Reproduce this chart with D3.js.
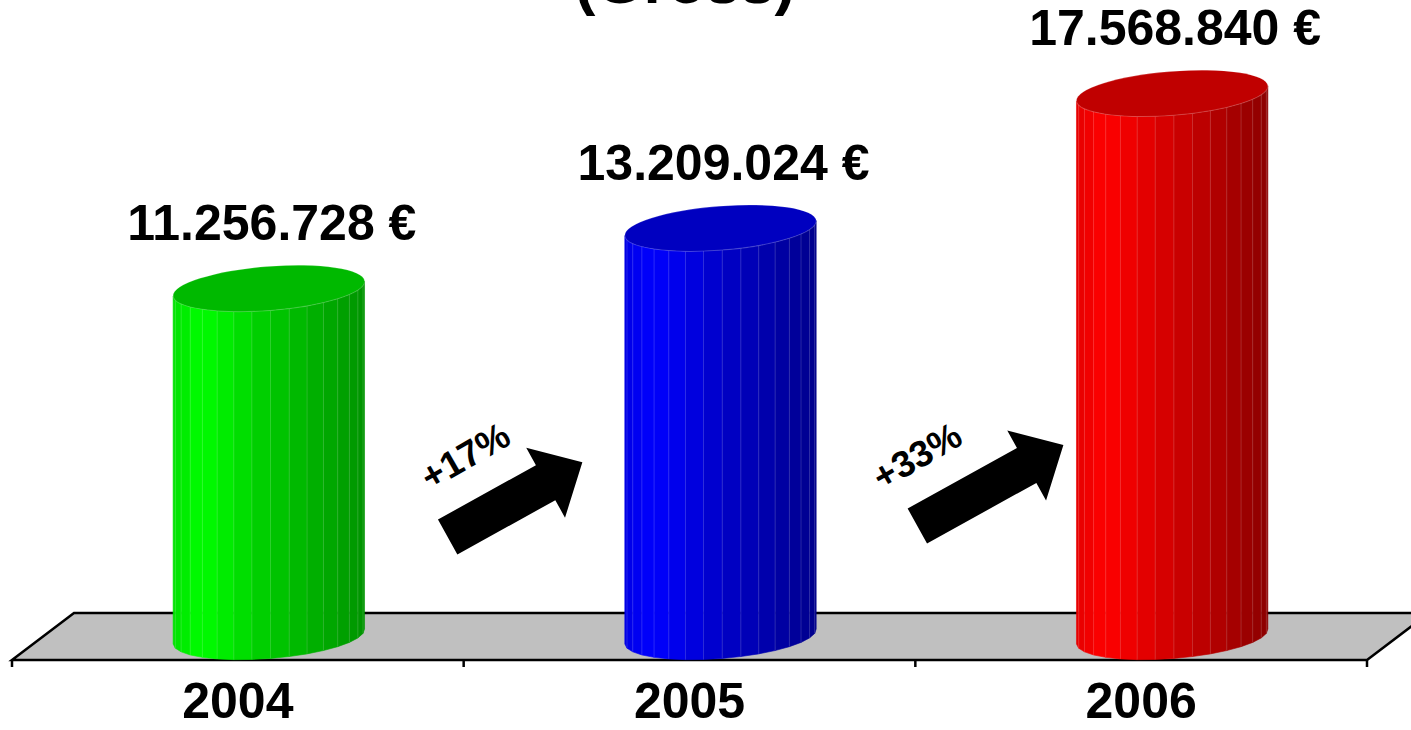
<!DOCTYPE html>
<html>
<head>
<meta charset="utf-8">
<script src="https://cdn.jsdelivr.net/npm/d3@7"></script>
<style>
  body { margin: 0; background: #fff; }
  svg { display: block; font-family: "Liberation Sans", Arial, sans-serif; }
</style>
</head>
<body>
<svg id="chart" width="1411" height="730"></svg>
<script>
// Revenue per year, 3D cylinder columns on a grey floor

const years = ['2004', '2005', '2006'];
const revenue = [11256728, 13209024, 17568840];
const growthLabels = ['+17%', '+33%'];
const title = '(Gross)';

// palette per column: [left edge, brightest, middle, right edge, top]
const palettes = [
  ['#00e000', '#00ff00', '#00c800', '#009400', '#00b900'],
  ['#0000e6', '#0000ff', '#0000c8', '#00008c', '#0000c0'],
  ['#e60000', '#ff0000', '#d00000', '#8c0000', '#c00000']
];

const W = 1411, H = 730;
const svg = d3.select('#chart');

const fmt = d3.formatLocale({ decimal: ',', thousands: '.', grouping: [3], currency: ['', ' €'] }).format('$,.0f');

// floor geometry
const floorFrontY = 660, depthDx = 62, depthDy = 47;
const baseY = floorFrontY - depthDy / 2;

const x = d3.scaleBand().domain(years).range([12, 1367]).padding(0);
const y = d3.scaleLinear().domain([0, 18e6]).range([baseY, baseY - 18 * 30.915]);

// Floor
const [fx0, fx1] = x.range();
svg.append('polygon')
  .attr('points', [[fx0, floorFrontY], [fx0 + depthDx, floorFrontY - depthDy],
    [fx1 + depthDx, floorFrontY - depthDy], [fx1, floorFrontY]].map(p => p.join(',')).join(' '))
  .attr('fill', '#c0c0c0')
  .attr('stroke', '#000')
  .attr('stroke-width', 2.5)
  .attr('stroke-linejoin', 'miter');

// ticks at band boundaries
const bounds = years.map(d => x(d)).concat([fx1]);
svg.append('g').selectAll('line')
  .data(bounds)
  .enter().append('line')
  .attr('x1', d => d).attr('x2', d => d)
  .attr('y1', floorFrontY).attr('y2', floorFrontY + 7)
  .attr('stroke', '#000').attr('stroke-width', 2.5);

// category labels
svg.append('g').selectAll('text')
  .data(years)
  .enter().append('text')
  .attr('x', d => x(d) + x.bandwidth() / 2)
  .attr('y', 718)
  .attr('text-anchor', 'middle')
  .attr('font-size', 50)
  .attr('font-weight', 'bold')
  .text(d => d);

// Cylinders
const rx = x.bandwidth() * 0.2125, ry = 22;
const tilt = -4.5 * Math.PI / 180;
const cosA = Math.cos(tilt), sinA = Math.sin(tilt);
const N = 16;

function ellPt(cx, cy, t){
  const ex = rx * Math.cos(t), ey = ry * Math.sin(t);
  return [cx + ex * cosA - ey * sinA, cy + ex * sinA + ey * cosA];
}

const cyl = svg.append('g').selectAll('g')
  .data(years.map((d, i) => ({ year: d, value: revenue[i], pal: palettes[i] })))
  .enter().append('g');

cyl.each(function(d){
  const g = d3.select(this);
  const cx = x(d.year) + x.bandwidth() / 2 + depthDx / 2;
  const yt = y(d.value), yb = y(0);
  const shade = d3.scaleLinear().domain([0, 0.14, 0.5, 1]).range(d.pal.slice(0, 4)).interpolate(d3.interpolateRgb);

  const facets = d3.range(N).map(k => {
    const t1 = Math.PI - k * Math.PI / N, t2 = Math.PI - (k + 1) * Math.PI / N;
    const tm = (t1 + t2) / 2;
    return { t1, t2, u: (1 + Math.cos(tm)) / 2 };
  });

  g.selectAll('polygon.facet')
    .data(facets)
    .enter().append('polygon')
    .attr('class', 'facet')
    .attr('points', f => [ellPt(cx, yt, f.t1), ellPt(cx, yt, f.t2), ellPt(cx, yb, f.t2), ellPt(cx, yb, f.t1)].map(p => p.join(',')).join(' '))
    .attr('fill', f => shade(f.u))
    .attr('stroke', f => shade(f.u))
    .attr('stroke-width', 0.6);

  // faint facet edges
  g.selectAll('line.edge')
    .data(facets.slice(1))
    .enter().append('line')
    .attr('class', 'edge')
    .attr('x1', f => ellPt(cx, yt, f.t1)[0]).attr('y1', f => ellPt(cx, yt, f.t1)[1])
    .attr('x2', f => ellPt(cx, yb, f.t1)[0]).attr('y2', f => ellPt(cx, yb, f.t1)[1])
    .attr('stroke', '#fff')
    .attr('stroke-opacity', 0.15)
    .attr('stroke-width', 1);

  // top cap
  g.append('ellipse')
    .attr('cx', 0).attr('cy', 0)
    .attr('rx', rx).attr('ry', ry)
    .attr('transform', `translate(${cx},${yt}) rotate(${tilt * 180 / Math.PI})`)
    .attr('fill', d.pal[4])
    .attr('stroke', '#fff')
    .attr('stroke-opacity', 0.2)
    .attr('stroke-width', 1);

  // value label
  g.append('text')
    .attr('x', cx + 3)
    .attr('y', yt - 48)
    .attr('text-anchor', 'middle')
    .attr('font-size', 50)
    .attr('font-weight', 'bold')
    .text(fmt(d.value));
});

// Growth arrows between columns
const arrowLayout = [
  { dx: -16, y: 537, len: 154 },
  { dx: 2, y: 526, len: 167 }
];
const arrowAngle = -29;
const shaftHW = 20, headHW = 40, headLen = 42;

growthLabels.forEach((lab, i) => {
  const b = x(years[i + 1]);
  const a = arrowLayout[i];
  const L = a.len;
  const pts = [[0, -shaftHW], [L - headLen, -shaftHW], [L - headLen, -headHW], [L, 0],
    [L - headLen, headHW], [L - headLen, shaftHW], [0, shaftHW]];
  svg.append('polygon')
    .attr('points', pts.map(p => p.join(',')).join(' '))
    .attr('transform', `translate(${b + a.dx},${a.y}) rotate(${arrowAngle})`)
    .attr('fill', '#000');

  svg.append('text')
    .attr('transform', `translate(${b + 8},${467}) rotate(-30)`)
    .attr('text-anchor', 'middle')
    .attr('font-size', 37)
    .attr('font-weight', 'bold')
    .text(lab);
});

// Title (mostly cut off at top)
svg.append('text')
  .attr('x', 685)
  .attr('y', 3)
  .attr('text-anchor', 'middle')
  .attr('font-size', 62)
  .attr('font-weight', 'bold')
  .text(title);
</script>
</body>
</html>
